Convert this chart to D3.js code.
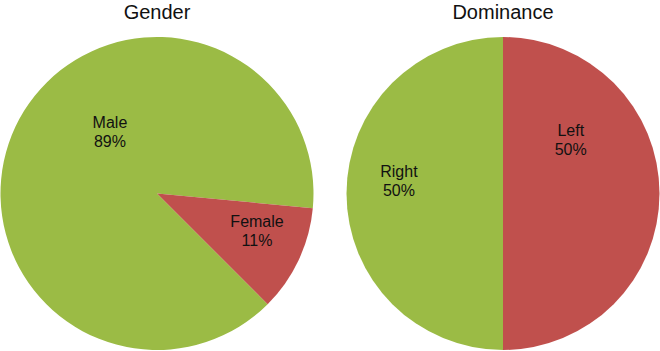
<!DOCTYPE html>
<html>
<head>
<meta charset="utf-8">
<script src="https://cdn.jsdelivr.net/npm/d3@7"></script>
<style>
  body { margin: 0; background: #fff; }
  text { font-family: "Liberation Sans", Arial, Helvetica, sans-serif; fill: #111; }
</style>
</head>
<body>
<div id="chart-area"></div>
<script>
// data
let genderLabels = ["Male", "Female"];
let genderValues = [89, 11];
let dominanceLabels = ["Left", "Right"];
let dominanceValues = [50, 50];

let colors = { Male: "#9bbb45", Female: "#c0504d", Left: "#c0504d", Right: "#9bbb45" };

let width = 660, height = 351;
let radius = 156.5;

let svg = d3.select("#chart-area").append("svg").attr("width", width).attr("height", height);

// layout for each pie: centre, rotation, and where excel put the labels (angle in deg, fraction of radius)
let charts = [
  { title: "Gender", labels: genderLabels, values: genderValues, cx: 157, cy: 193.5, rotate: 135,
    labelPos: [[322.7, 0.496], [110.4, 0.682]] },
  { title: "Dominance", labels: dominanceLabels, values: dominanceValues, cx: 503, cy: 193.5, rotate: 0,
    labelPos: [[51.5, 0.553], [277, 0.67]] }
];

let arc = d3.arc().innerRadius(0).outerRadius(radius);

charts.forEach(c => {
  let start = c.rotate * Math.PI / 180;
  let pie = d3.pie().sort(null).startAngle(start).endAngle(start + 2 * Math.PI);
  let slices = pie(c.values);
  let total = d3.sum(c.values);

  let g = svg.append("g").attr("transform", `translate(${c.cx},${c.cy})`);

  g.selectAll("path")
    .data(slices)
    .enter()
    .append("path")
      .attr("d", arc)
      .attr("fill", (d, i) => colors[c.labels[i]]);

  let lbl = g.selectAll("g.lbl")
    .data(slices)
    .enter()
    .append("g")
      .attr("class", "lbl")
      .attr("transform", (d, i) => {
        let a = c.labelPos[i][0] * Math.PI / 180;
        let r = c.labelPos[i][1] * radius;
        return `translate(${Math.sin(a) * r},${-Math.cos(a) * r})`;
      });

  lbl.append("text")
    .attr("text-anchor", "middle")
    .attr("y", -4)
    .style("font-size", "16px")
    .text((d, i) => c.labels[i]);

  lbl.append("text")
    .attr("text-anchor", "middle")
    .attr("y", 15.5)
    .style("font-size", "16px")
    .text(d => Math.round(d.value / total * 100) + "%");

  svg.append("text")
    .attr("x", c.cx)
    .attr("y", 18.5)
    .attr("text-anchor", "middle")
    .style("font-size", "20px")
    .text(c.title);
});
</script>
</body>
</html>
